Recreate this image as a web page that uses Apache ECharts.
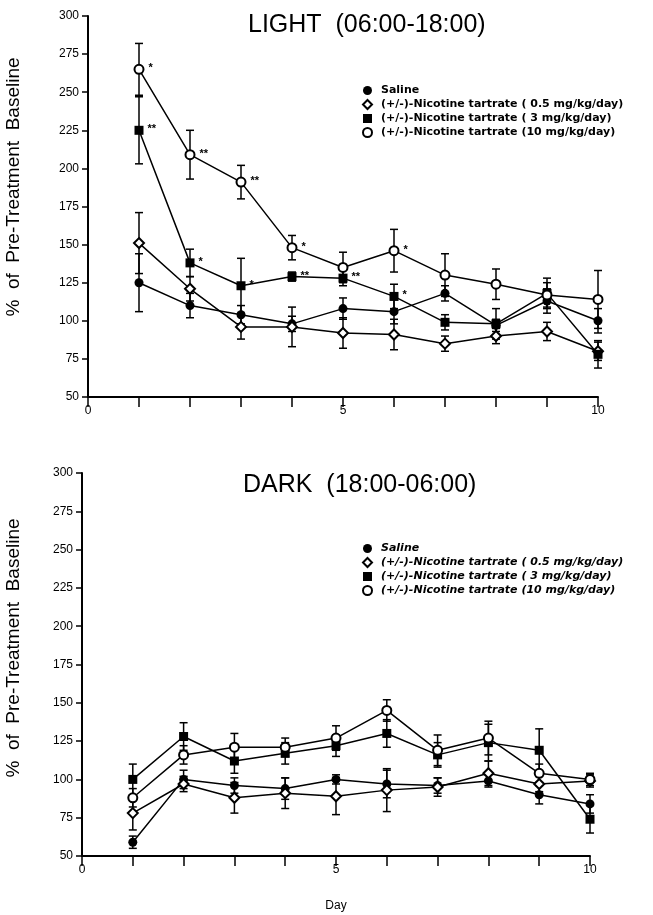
<!DOCTYPE html>
<html>
<head>
<meta charset="utf-8">
<title>Nicotine tartrate - activity</title>
<script src="https://cdn.jsdelivr.net/npm/echarts@6/dist/echarts.min.js"></script>
<style>
  html, body { margin: 0; padding: 0; background: #fff; }
  #chart { width: 653px; height: 915px; }
</style>
</head>
<body>
<div id="chart"></div>
<script>
const days = [1, 2, 3, 4, 5, 6, 7, 8, 9, 10];
const groupNames = [
  'Saline',
  '(+/-)-Nicotine tartrate ( 0.5 mg/kg/day)',
  '(+/-)-Nicotine tartrate ( 3 mg/kg/day)',
  '(+/-)-Nicotine tartrate (10 mg/kg/day)'
];
const groupSymbols = ['circle', 'emptyDiamond', 'rect', 'emptyCircle'];
const yTicks = [50, 75, 100, 125, 150, 175, 200, 225, 250, 275, 300];
const xTickLabels = [0, 5, 10];

// LIGHT (06:00-18:00)
const lightSaline = [125, 110, 104, 98, 108, 106, 118, 97, 113, 100];
const lightSalineErr = [19, 8, 6, 5, 7, 8, 5, 4, 8, 8];
const lightLow = [151, 121, 96, 96, 92, 91, 85, 90, 93, 80];
const lightLowErr = [20, 8, 8, 13, 10, 10, 5, 5, 6, 6];
const lightMid = [225, 138, 123, 129, 128, 116, 99, 98, 118, 78];
const lightMidErr = [22, 9, 18, 3, 5, 8, 5, 10, 10, 9];
const lightHigh = [265, 209, 191, 148, 135, 146, 130, 124, 117, 114];
const lightHighErr = [17, 16, 11, 8, 10, 14, 14, 10, 8, 19];
const lightMidStars = ['**', '*', '*', '**', '**', '*', '', '', '', ''];
const lightHighStars = ['*', '**', '**', '*', '', '*', '', '', '', ''];

// DARK (18:00-06:00)
const darkSaline = [59, 100, 96, 94, 100, 97, 96, 99, 90, 84];
const darkSalineErr = [4, 6, 5, 7, 3, 9, 5, 4, 6, 6];
const darkLow = [78, 97, 88, 91, 89, 93, 95, 104, 97, 99];
const darkLowErr = [11, 5, 10, 10, 12, 14, 6, 8, 5, 4];
const darkMid = [100, 128, 112, 117, 122, 130, 116, 124, 119, 74];
const darkMidErr = [10, 9, 8, 7, 7, 9, 8, 12, 14, 9];
const darkHigh = [88, 116, 121, 121, 127, 145, 119, 127, 104, 100];
const darkHighErr = [6, 6, 9, 6, 8, 7, 10, 11, 6, 4];

const chartDom = document.getElementById('chart');
const myChart = echarts.init(chartDom);

function lineSeries(panel, g, vals, stars) {
  return {
    name: groupNames[g],
    type: 'line',
    xAxisIndex: panel,
    yAxisIndex: panel,
    z: 3,
    data: days.map((d, i) => [d, vals[i]]),
    symbol: groupSymbols[g],
    symbolSize: g === 1 ? 10 : 9,
    lineStyle: { color: '#000', width: 1.5 },
    itemStyle: { color: '#000', borderWidth: 1.5 },
    label: {
      show: !!stars,
      position: 'right',
      distance: 4,
      offset: [0, -1],
      color: '#000',
      fontSize: 11,
      fontWeight: 'bold',
      formatter: p => (stars ? stars[p.dataIndex] : '')
    }
  };
}

function errorSeries(panel, vals, errs) {
  return {
    name: 'err',
    type: 'custom',
    xAxisIndex: panel,
    yAxisIndex: panel,
    z: 2,
    silent: true,
    data: days.map((d, i) => [d, vals[i] - errs[i], vals[i] + errs[i]]),
    renderItem: (params, api) => {
      const lo = api.coord([api.value(0), api.value(1)]);
      const hi = api.coord([api.value(0), api.value(2)]);
      const w = 4;
      const style = { stroke: '#000', lineWidth: 1.5 };
      return {
        type: 'group',
        children: [
          { type: 'line', shape: { x1: lo[0], y1: lo[1], x2: hi[0], y2: hi[1] }, style },
          { type: 'line', shape: { x1: lo[0] - w, y1: lo[1], x2: lo[0] + w, y2: lo[1] }, style },
          { type: 'line', shape: { x1: hi[0] - w, y1: hi[1], x2: hi[0] + w, y2: hi[1] }, style }
        ]
      };
    }
  };
}

function xAxis(panel, name) {
  return {
    gridIndex: panel,
    type: 'value',
    min: 0,
    max: 10,
    interval: 1,
    name: name,
    nameLocation: 'middle',
    nameGap: 44,
    nameTextStyle: { color: '#000', fontSize: 12, fontFamily: 'Liberation Sans' },
    axisLine: { show: true, lineStyle: { color: '#000', width: 2 } },
    axisTick: { show: true, length: 10, lineStyle: { color: '#000', width: 1.5 } },
    axisLabel: {
      color: '#000',
      fontSize: 12,
      fontFamily: 'Liberation Sans',
      margin: 8,
      formatter: v => (xTickLabels.indexOf(v) >= 0 ? String(v) : '')
    },
    splitLine: { show: false }
  };
}

function yAxis(panel) {
  return {
    gridIndex: panel,
    type: 'value',
    min: yTicks[0],
    max: yTicks[yTicks.length - 1],
    interval: 25,
    axisLine: { show: true, lineStyle: { color: '#000', width: 2 } },
    axisTick: { show: true, length: 6, lineStyle: { color: '#000', width: 1.5 } },
    axisLabel: { color: '#000', fontSize: 12, fontFamily: 'Liberation Sans', margin: 9 },
    splitLine: { show: false }
  };
}

function legend(top, italic) {
  return {
    orient: 'vertical',
    left: 362,
    top: top,
    padding: 0,
    itemWidth: 9,
    itemHeight: 9,
    itemGap: 3,
    selectedMode: false,
    textStyle: {
      color: '#000',
      fontSize: 11,
      fontWeight: 'bold',
      fontFamily: 'DejaVu Sans',
      fontStyle: italic ? 'italic' : 'normal',
      padding: [0, 0, 0, 4]
    },
    data: groupNames.map((n, i) => ({ name: n, icon: groupSymbols[i] }))
  };
}

const yName = '%  of  Pre-Treatment  Baseline';

const option = {
  animation: false,
  backgroundColor: '#fff',
  title: [
    {
      text: 'LIGHT  (06:00-18:00)',
      left: 248,
      top: 13,
      padding: 0,
      textStyle: { color: '#000', fontSize: 25, fontWeight: 'normal', fontFamily: 'Liberation Sans' }
    },
    {
      text: 'DARK  (18:00-06:00)',
      left: 243,
      top: 473,
      padding: 0,
      textStyle: { color: '#000', fontSize: 25, fontWeight: 'normal', fontFamily: 'Liberation Sans' }
    }
  ],
  legend: [legend(85, false), legend(543, true)],
  graphic: [
    {
      type: 'text',
      x: 14,
      y: 187,
      rotation: Math.PI / 2,
      style: {
        text: yName,
        fill: '#000',
        font: '19px "Liberation Sans"',
        align: 'center',
        verticalAlign: 'middle'
      }
    },
    {
      type: 'text',
      x: 14,
      y: 648,
      rotation: Math.PI / 2,
      style: {
        text: yName,
        fill: '#000',
        font: '19px "Liberation Sans"',
        align: 'center',
        verticalAlign: 'middle'
      }
    }
  ],
  grid: [
    { left: 88, right: 55, top: 16, height: 381 },
    { left: 82, right: 63, top: 473, height: 383 }
  ],
  xAxis: [xAxis(0, ''), xAxis(1, 'Day')],
  yAxis: [yAxis(0), yAxis(1)],
  series: [
    errorSeries(0, lightSaline, lightSalineErr),
    errorSeries(0, lightLow, lightLowErr),
    errorSeries(0, lightMid, lightMidErr),
    errorSeries(0, lightHigh, lightHighErr),
    lineSeries(0, 0, lightSaline),
    lineSeries(0, 1, lightLow),
    lineSeries(0, 2, lightMid, lightMidStars),
    lineSeries(0, 3, lightHigh, lightHighStars),
    errorSeries(1, darkSaline, darkSalineErr),
    errorSeries(1, darkLow, darkLowErr),
    errorSeries(1, darkMid, darkMidErr),
    errorSeries(1, darkHigh, darkHighErr),
    lineSeries(1, 0, darkSaline),
    lineSeries(1, 1, darkLow),
    lineSeries(1, 2, darkMid),
    lineSeries(1, 3, darkHigh)
  ]
};

option && myChart.setOption(option);
</script>
</body>
</html>
